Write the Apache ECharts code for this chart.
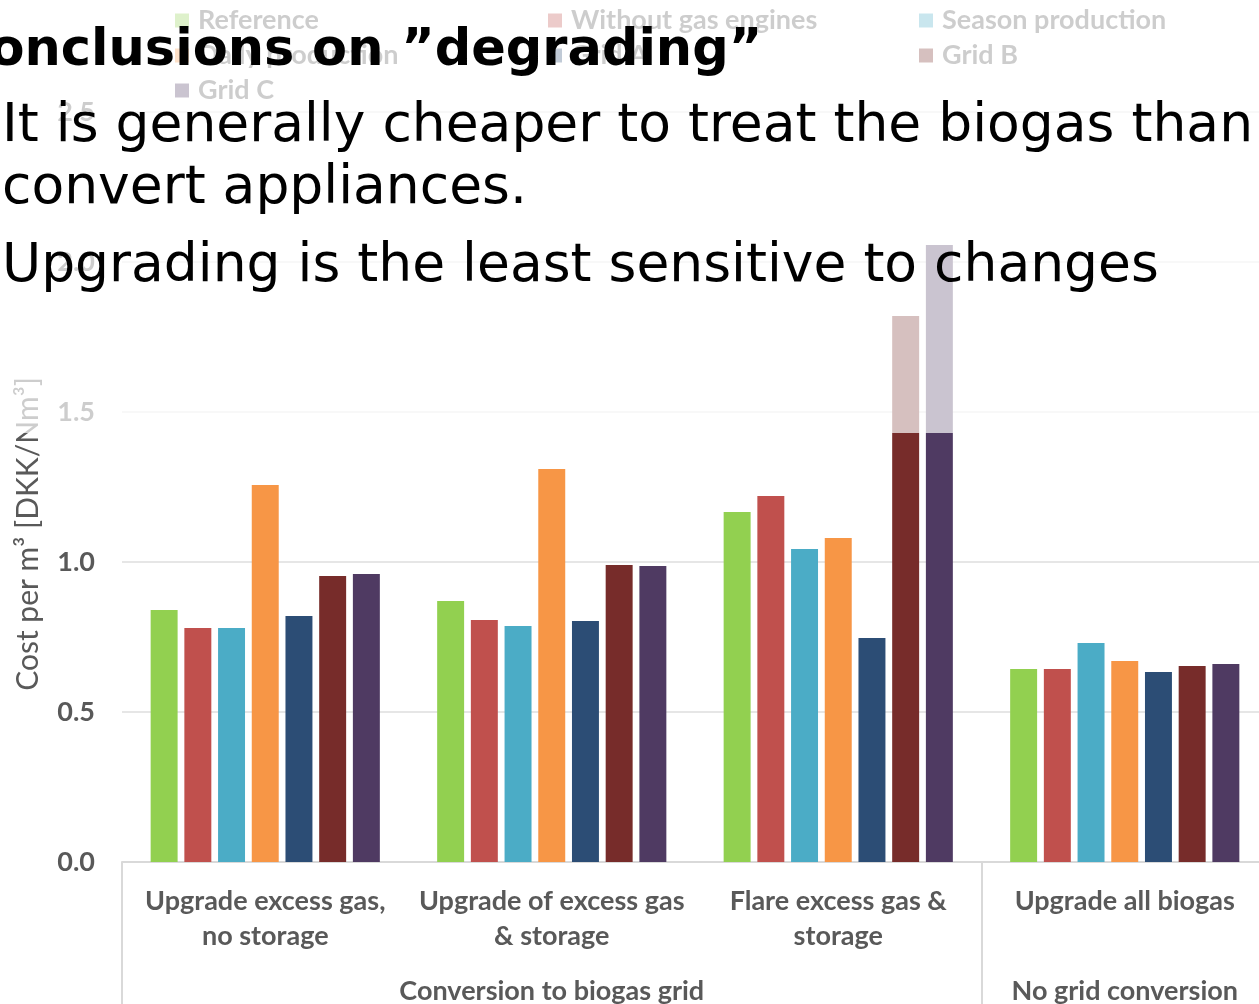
<!DOCTYPE html>
<html>
<head>
<meta charset="utf-8">
<script src="https://cdn.jsdelivr.net/npm/echarts@6/dist/echarts.min.js"></script>
<style>
  html, body { margin: 0; padding: 0; background: #ffffff; }
  #chart { width: 1259px; height: 1004px; }
</style>
</head>
<body>
<div id="chart"></div>
<script>
// Cost per m3 for each scenario and sensitivity case
const scenarios = [
  'Upgrade excess gas,\nno storage',
  'Upgrade of excess gas\n& storage',
  'Flare excess gas &\nstorage',
  'Upgrade all biogas'
];
const groupLabels = ['', 'Conversion to biogas grid', '', 'No grid conversion'];
const seriesNames = [
  'Reference', 'Without gas engines', 'Season production',
  'Daily production', 'Grid A', 'Grid B', 'Grid C'
];
const seriesColors = ['#92D050', '#C0504D', '#4BACC6', '#F79646', '#2C4D75', '#772C2A', '#4F3A62'];

const reference         = [0.84, 0.87, 1.167, 0.643];
const withoutGasEngines = [0.78, 0.807, 1.22, 0.643];
const seasonProduction  = [0.78, 0.787, 1.043, 0.73];
const dailyProduction   = [1.257, 1.31, 1.08, 0.67];
const gridA             = [0.82, 0.803, 0.747, 0.633];
const gridB             = [0.953, 0.99, 1.82, 0.653];
const gridC             = [0.96, 0.987, 2.057, 0.66];
const seriesValues = [reference, withoutGasEngines, seasonProduction, dailyProduction, gridA, gridB, gridC];

const yTicks = { min: 0, max: 2.5, interval: 0.5 };

const titleText = 'Conclusions on \u201Ddegrading\u201D';
const bulletLines = [
  'It is generally cheaper to treat the biogas than to',
  'convert appliances.',
  'Upgrading is the least sensitive to changes'
];

const chartFont = 'Lato, "Open Sans", sans-serif';
const axisGrey = '#595959';

const chart = echarts.init(document.getElementById('chart'), null, { renderer: 'canvas' });

// legend laid out in three columns
const legendColumns = [
  [0, 3, 6],
  [1, 4],
  [2, 5]
];
const legendLefts = [175, 548, 919];

const option = {
  animation: false,
  backgroundColor: '#ffffff',
  textStyle: { fontFamily: chartFont },
  legend: legendColumns.map((idx, c) => ({
    left: legendLefts[c],
    top: 7,
    padding: 0,
    orient: 'vertical',
    itemGap: 8,
    itemWidth: 14,
    itemHeight: 14,
    icon: 'rect',
    selectedMode: false,
    data: idx.map(i => seriesNames[i]),
    textStyle: { fontFamily: chartFont, fontSize: 27, fontWeight: 'bold', color: axisGrey, padding: [0, 0, 0, 4] }
  })),
  grid: { left: 122, top: 112, width: 1146, height: 750, outerBoundsMode: 'none', containLabel: false },
  xAxis: [
    {
      type: 'category',
      data: scenarios,
      axisLine: { show: true, lineStyle: { color: '#D9D9D9', width: 2 } },
      axisTick: { show: false },
      axisLabel: {
        interval: 0,
        margin: 22,
        fontFamily: chartFont,
        fontSize: 27,
        fontWeight: 'bold',
        color: axisGrey,
        lineHeight: 35,
        align: 'center'
      }
    },
    {
      type: 'category',
      position: 'bottom',
      data: groupLabels,
      axisLine: { show: false },
      axisTick: {
        show: true,
        length: 150,
        interval: (i) => i === 0 || i === 3,
        lineStyle: { color: '#D9D9D9', width: 2 }
      },
      axisLabel: {
        interval: 0,
        margin: 116,
        fontFamily: chartFont,
        fontSize: 27,
        fontWeight: 'bold',
        color: axisGrey
      }
    }
  ],
  yAxis: {
    type: 'value',
    min: yTicks.min,
    max: yTicks.max,
    interval: yTicks.interval,
    name: 'Cost per m\u00B3 [DKK/Nm\u00B3]',
    nameLocation: 'middle',
    nameGap: 79,
    nameRotate: 90,
    nameTextStyle: { fontFamily: chartFont, fontSize: 30, color: axisGrey, padding: [0, 94, 0, 0] },
    axisLine: { show: false },
    axisTick: { show: false },
    splitLine: { lineStyle: { color: '#E6E6E6', width: 2 } },
    axisLabel: {
      margin: 27,
      fontFamily: chartFont,
      fontSize: 27,
      fontWeight: 'bold',
      color: axisGrey,
      formatter: v => v.toFixed(1)
    }
  },
  series: seriesNames.map((name, i) => ({
    name,
    type: 'bar',
    xAxisIndex: 0,
    data: seriesValues[i],
    barGap: '25%',
    barCategoryGap: '20%',
    itemStyle: { color: seriesColors[i] }
  })),
  graphic: [
    {
      // translucent panel behind the slide text
      type: 'rect',
      z: 100,
      shape: { x: 0, y: 0, width: 1259, height: 433 },
      style: { fill: 'rgba(255,255,255,0.70)' },
      silent: true
    },
    {
      type: 'text',
      z: 101,
      x: -48,
      y: 26,
      style: {
        text: titleText,
        font: 'bold 51px "DejaVu Sans", sans-serif',
        fill: '#000000'
      }
    },
    ...bulletLines.map((t, i) => ({
      type: 'text',
      z: 101,
      x: 2,
      y: [100, 162, 240][i],
      style: {
        text: t,
        font: '53.5px "DejaVu Sans", sans-serif',
        fill: '#000000'
      }
    }))
  ]
};

chart.setOption(option);
</script>
</body>
</html>
